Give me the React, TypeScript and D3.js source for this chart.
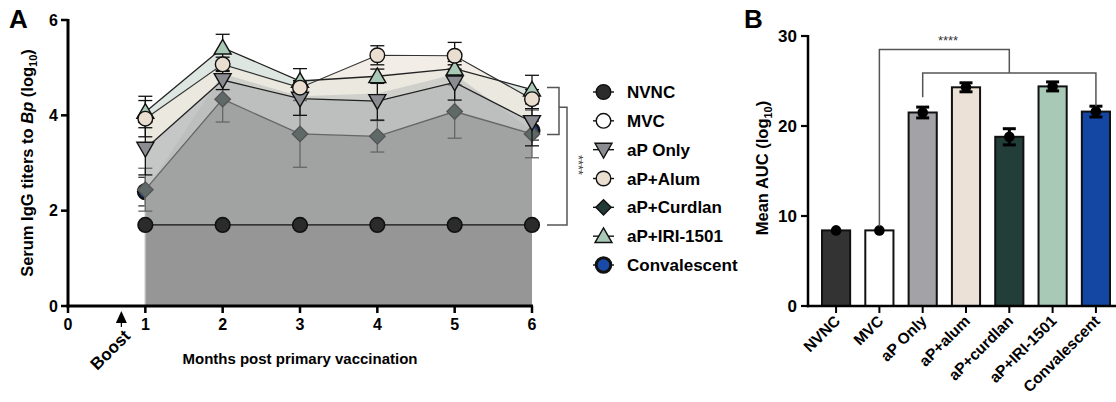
import React from 'react';
import * as d3 from 'd3';

// ---------- Panel A data ----------
const months = [1, 2, 3, 4, 5, 6];
const xTicksA = [0, 1, 2, 3, 4, 5, 6];
const yTicksA = [0, 2, 4, 6];
const nvncVals = [1.7, 1.7, 1.7, 1.7, 1.7, 1.7];
const mvcVals = [1.7, 1.7, 1.7, 1.7, 1.7, 1.7];
const apOnlyVals = [3.3, 4.74, 4.35, 4.3, 4.69, 3.86];
const apOnlySd = [0.55, 0.2, 0.35, 0.4, 0.37, 0.5];
const apAlumVals = [3.93, 5.07, 4.58, 5.26, 5.25, 4.34];
const apAlumSd = [0.38, 0.15, 0.15, 0.2, 0.28, 0.2];
const apCurdlanVals = [2.44, 4.34, 3.61, 3.56, 4.08, 3.61];
const apCurdlanSd = [0.45, 0.48, 0.7, 0.33, 0.56, 0.5];
const apIriVals = [4.07, 5.42, 4.72, 4.82, 4.98, 4.54];
const apIriSd = [0.33, 0.28, 0.26, 0.15, 0.15, 0.3];
const convVals = [2.4, 4.87, 4.4, 4.46, 4.86, 3.68];
const convSd = [0.3, 0.2, 0.2, 0.2, 0.2, 0.2];
const legendLabels = ['NVNC', 'MVC', 'aP Only', 'aP+Alum', 'aP+Curdlan', 'aP+IRI-1501', 'Convalescent'];

// ---------- Panel B data ----------
const aucGroups = ['NVNC', 'MVC', 'aP Only', 'aP+alum', 'aP+curdlan', 'aP+IRI-1501', 'Convalescent'];
const aucMeans = [8.4, 8.4, 21.5, 24.3, 18.8, 24.4, 21.6];
const aucSd = [0, 0, 0.6, 0.5, 0.9, 0.5, 0.6];
const yTicksB = [0, 10, 20, 30];

const FONT = 'Liberation Sans, Arial, sans-serif';

const xA = d3.scaleLinear().domain([0, 6]).range([68, 532]);
const yA = d3.scaleLinear().domain([0, 6]).range([306, 20]);
const xB = d3.scaleBand<string>().domain(aucGroups).range([822, 1110]).paddingInner(0.35).paddingOuter(0);
const yB = d3.scaleLinear().domain([0, 30]).range([306, 36]);

type Marker = 'circle' | 'tri' | 'itri' | 'diamond';

function symbolPath(m: Marker): { d: string; rot: number } {
  if (m === 'circle') return { d: d3.symbol().type(d3.symbolCircle).size(Math.PI * 7.3 * 7.3)() || '', rot: 0 };
  if (m === 'tri') return { d: d3.symbol().type(d3.symbolTriangle).size(125)() || '', rot: 0 };
  if (m === 'itri') return { d: d3.symbol().type(d3.symbolTriangle).size(125)() || '', rot: 180 };
  return { d: d3.symbol().type(d3.symbolSquare).size(118)() || '', rot: 45 };
}

function Sym({ x, y, m, fill, stroke = '#111', sw = 1.4, opacity = 1 }: any) {
  const s = symbolPath(m);
  const dy = m === 'tri' ? 1.5 : m === 'itri' ? -1.5 : 0;
  return (
    <path
      d={s.d}
      transform={`translate(${x},${y + dy}) rotate(${s.rot})`}
      fill={fill}
      stroke={stroke}
      strokeWidth={sw}
      opacity={opacity}
    />
  );
}

const areaGen = d3
  .area<number>()
  .x((_, i) => xA(months[i]))
  .y0(yA(0))
  .y1((d) => yA(d));
const lineGen = d3
  .line<number>()
  .x((_, i) => xA(months[i]))
  .y((d) => yA(d));

function ErrA({ vals, sd, color = '#111', sw = 1.3 }: any) {
  return (
    <g stroke={color} strokeWidth={sw} fill="none">
      {vals.map((v: number, i: number) => {
        const x = xA(months[i]);
        const y1 = yA(v + sd[i]);
        const y2 = yA(v - sd[i]);
        return (
          <g key={i}>
            <line x1={x} x2={x} y1={y1} y2={y2} />
            <line x1={x - 7} x2={x + 7} y1={y1} y2={y1} />
            <line x1={x - 7} x2={x + 7} y1={y2} y2={y2} />
          </g>
        );
      })}
    </g>
  );
}

export default function App() {
  const barColors = ['#333333', '#ffffff', '#a2a2a7', '#ebe1d6', '#233d39', '#a9c9b7', '#1446a3'];
  const legendSpec: { m: Marker; fill: string; sw: number }[] = [
    { m: 'circle', fill: '#2b2b2b', sw: 1.4 },
    { m: 'circle', fill: '#ffffff', sw: 1.4 },
    { m: 'itri', fill: '#8b8c91', sw: 1.4 },
    { m: 'circle', fill: '#e9ded0', sw: 1.4 },
    { m: 'diamond', fill: '#233935', sw: 1.4 },
    { m: 'tri', fill: '#a9c8b6', sw: 1.4 },
    { m: 'circle', fill: '#1a4aa8', sw: 3 },
  ];
  const legendY = d3.scaleLinear().domain([0, 6]).range([92, 265]);

  const bracketColor = '#555';

  return (
    <svg width={1116} height={402} style={{ position: 'absolute', left: 0, top: 0, display: 'block', fontFamily: FONT }}>
      {/* ================= Panel A ================= */}
      <text x={9} y={28} fontSize={26} fontWeight="bold">A</text>

      {/* hidden/dark series drawn first */}
      <path d={lineGen(convVals) || ''} fill="none" stroke="#888" strokeWidth={1} />
      <ErrA vals={convVals} sd={convSd} color="#333" />
      {convVals.map((v, i) => (
        <Sym key={'cv' + i} x={xA(months[i])} y={yA(v)} m="circle" fill="#1c3f7e" sw={2.5} />
      ))}

      {/* areas */}
      <path d={areaGen(apIriVals) || ''} fill="#dde6e1" />
      <path d={areaGen(apAlumVals) || ''} fill="#efe9e0" opacity={0.8} />
      <path d={areaGen(apOnlyVals) || ''} fill="#bdc1c0" opacity={0.85} />
      <path d={areaGen(convVals) || ''} fill="#b3b7b6" opacity={0.5} />
      <path d={areaGen(apCurdlanVals) || ''} fill="#a0a3a2" />
      <path d={areaGen(mvcVals) || ''} fill="#999999" />
      <path d={areaGen(nvncVals) || ''} fill="#969696" />
      <line x1={xA(1)} x2={xA(1)} y1={yA(0)} y2={yA(apCurdlanVals[0])} stroke="#bbb" strokeWidth={1.5} />

      {/* curdlan (appears greyed) */}
      <path d={lineGen(apCurdlanVals) || ''} fill="none" stroke="#666" strokeWidth={1.3} />
      <ErrA vals={apCurdlanVals} sd={apCurdlanSd} color="#666" />
      {apCurdlanVals.map((v, i) => (
        <Sym key={'cu' + i} x={xA(months[i])} y={yA(v)} m="diamond" fill="#5f6a68" stroke="#555" />
      ))}

      {/* aP only */}
      <path d={lineGen(apOnlyVals) || ''} fill="none" stroke="#222" strokeWidth={1.3} />
      <ErrA vals={apOnlyVals} sd={apOnlySd} />
      {/* alum */}
      <path d={lineGen(apAlumVals) || ''} fill="none" stroke="#333" strokeWidth={1.2} />
      <ErrA vals={apAlumVals} sd={apAlumSd} />
      {/* IRI */}
      <path d={lineGen(apIriVals) || ''} fill="none" stroke="#222" strokeWidth={1.3} />
      <ErrA vals={apIriVals} sd={apIriSd} />

      {apOnlyVals.map((v, i) => (
        <Sym key={'ao' + i} x={xA(months[i])} y={yA(v)} m="itri" fill="#8b8c91" />
      ))}
      {apIriVals.map((v, i) => (
        <Sym key={'ir' + i} x={xA(months[i])} y={yA(v)} m="tri" fill="#a9c8b6" />
      ))}
      {apAlumVals.map((v, i) => (
        <Sym key={'al' + i} x={xA(months[i])} y={yA(v)} m="circle" fill="#e9ded0" />
      ))}

      {/* NVNC / MVC baseline */}
      <path d={lineGen(nvncVals) || ''} fill="none" stroke="#111" strokeWidth={1.3} />
      {nvncVals.map((v, i) => (
        <Sym key={'nv' + i} x={xA(months[i])} y={yA(v)} m="circle" fill="#2b2b2b" sw={1.6} />
      ))}

      {/* axes A */}
      <line x1={xA(0)} x2={xA(0)} y1={yA(6) - 1} y2={yA(0) + 1.5} stroke="#000" strokeWidth={3} />
      <line x1={xA(0) - 1.5} x2={xA(6) + 1} y1={yA(0)} y2={yA(0)} stroke="#000" strokeWidth={3} />
      {yTicksA.map((t) => (
        <g key={'ya' + t}>
          <line x1={xA(0) - 7} x2={xA(0)} y1={yA(t)} y2={yA(t)} stroke="#000" strokeWidth={2.5} />
          <text x={xA(0) - 10} y={yA(t)} dy="0.36em" textAnchor="end" fontSize={16} fontWeight="bold">{t}</text>
        </g>
      ))}
      {xTicksA.map((t) => (
        <g key={'xa' + t}>
          <line x1={xA(t)} x2={xA(t)} y1={yA(0)} y2={yA(0) + 7} stroke="#000" strokeWidth={2.5} />
          <text x={xA(t)} y={yA(0) + 24} textAnchor="middle" fontSize={16} fontWeight="bold">{t}</text>
        </g>
      ))}
      {/* Boost arrow */}
      <path d={`M${xA(0.69)},${yA(0) + 5} l-5.5,12 h11 Z`} fill="#000" />
      <line x1={xA(0.69)} x2={xA(0.69)} y1={yA(0) + 15} y2={yA(0) + 21} stroke="#000" strokeWidth={1.2} />
      <text transform={`translate(${xA(0.69) + 10},${yA(0) + 31}) rotate(-45)`} textAnchor="end" fontSize={17} fontWeight="bold">Boost</text>

      <text x={300} y={364} textAnchor="middle" fontSize={15} fontWeight="bold">Months post primary vaccination</text>
      <text transform={`translate(33,${yA(3)}) rotate(-90)`} textAnchor="middle" fontSize={16.5} fontWeight="bold">
        Serum IgG titers to <tspan fontStyle="italic">Bp</tspan> (log<tspan fontSize={11} dy={4}>10</tspan><tspan dy={-4}>)</tspan>
      </text>

      {/* significance brackets A */}
      <g stroke={bracketColor} strokeWidth={1.5} fill="none">
        <path d={`M547,${yA(apIriVals[5]) - 2} H559 V${yA(3.6)} H547`} />
        <path d={`M559,${yA(4.17)} H567 V${yA(nvncVals[5])} H547`} />
      </g>
      <text transform={`translate(574,165) rotate(90)`} textAnchor="middle" fontSize={13} fill="#444">****</text>

      {/* legend */}
      {legendLabels.map((lab, i) => (
        <g key={'lg' + i}>
          <line x1={593} x2={614} y1={legendY(i)} y2={legendY(i)} stroke="#111" strokeWidth={1.4} />
          <Sym x={603.5} y={legendY(i)} m={legendSpec[i].m} fill={legendSpec[i].fill} sw={legendSpec[i].sw} />
          <text x={627} y={legendY(i)} dy="0.36em" fontSize={17} fontWeight="bold">{lab}</text>
        </g>
      ))}

      {/* ================= Panel B ================= */}
      <text x={744} y={28} fontSize={26} fontWeight="bold">B</text>
      <text transform={`translate(768,168) rotate(-90)`} textAnchor="middle" fontSize={16.5} fontWeight="bold">
        Mean AUC (log<tspan fontSize={11} dy={4}>10</tspan><tspan dy={-4}>)</tspan>
      </text>

      {aucGroups.map((g, i) => {
        const x = xB(g) || 0;
        return (
          <rect key={'bar' + g} x={x} y={yB(aucMeans[i])} width={xB.bandwidth()} height={yB(0) - yB(aucMeans[i])}
            fill={barColors[i]} stroke="#111" strokeWidth={2} />
        );
      })}
      {aucGroups.map((g, i) => {
        const cx = (xB(g) || 0) + xB.bandwidth() / 2;
        const top = yB(aucMeans[i] + aucSd[i]);
        const bot = yB(aucMeans[i] - aucSd[i]);
        return (
          <g key={'eb' + g}>
            {aucSd[i] > 0 && (
              <g stroke="#000" strokeWidth={3}>
                <line x1={cx} x2={cx} y1={top} y2={bot} />
                <line x1={cx - 6.5} x2={cx + 6.5} y1={top} y2={top} />
                <line x1={cx - 6.5} x2={cx + 6.5} y1={bot} y2={bot} />
              </g>
            )}
            <circle cx={cx} cy={yB(aucMeans[i])} r={5.3} fill="#000" />
          </g>
        );
      })}

      {/* axes B */}
      <line x1={808} x2={808} y1={yB(30) - 1} y2={yB(0) + 1.2} stroke="#000" strokeWidth={2.5} />
      <line x1={806.8} x2={1116} y1={yB(0)} y2={yB(0)} stroke="#000" strokeWidth={2.5} />
      {yTicksB.map((t) => (
        <g key={'yb' + t}>
          <line x1={801} x2={808} y1={yB(t)} y2={yB(t)} stroke="#000" strokeWidth={2.2} />
          <text x={797} y={yB(t)} dy="0.36em" textAnchor="end" fontSize={17} fontWeight="bold">{t}</text>
        </g>
      ))}
      {aucGroups.map((g) => {
        const cx = (xB(g) || 0) + xB.bandwidth() / 2;
        return (
          <g key={'xb' + g}>
            <line x1={cx} x2={cx} y1={yB(0)} y2={yB(0) + 7} stroke="#000" strokeWidth={2} />
            <text transform={`translate(${cx + 5},${yB(0) + 16}) rotate(-45)`} textAnchor="end" fontSize={15.5} fontWeight="bold">{g}</text>
          </g>
        );
      })}

      {/* significance brackets B */}
      {(() => {
        const c = (g: string) => (xB(g) || 0) + xB.bandwidth() / 2;
        const xMvc = c('MVC');
        const xAp = c('aP Only');
        const xConv = c('Convalescent');
        const xMid = c('aP+curdlan');
        const yTop = yB(28.5);
        const yLow = yB(25.9);
        return (
          <g stroke={bracketColor} strokeWidth={1.5} fill="none">
            <path d={`M${xMvc},${yB(aucMeans[1]) - 4} V${yTop} H${xMid} V${yLow}`} />
            <path d={`M${xAp},${yB(23.2)} V${yLow} H${xConv} V${yB(22.2)}`} />
          </g>
        );
      })()}
      <text x={948} y={45} textAnchor="middle" fontSize={13} fill="#333">****</text>
    </svg>
  );
}
